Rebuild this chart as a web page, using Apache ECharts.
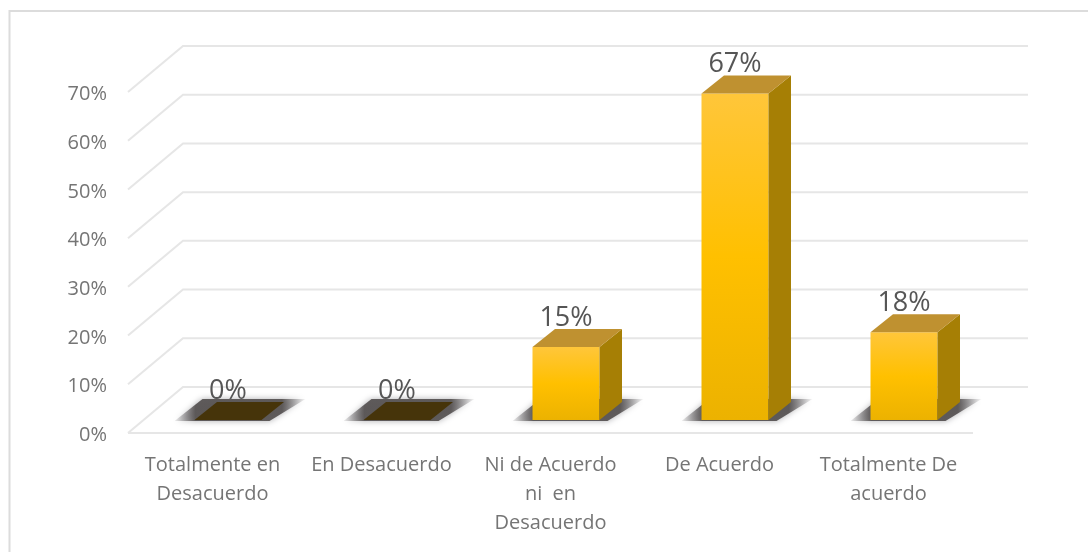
<!DOCTYPE html>
<html lang="es">
<head>
<meta charset="utf-8">
<title>Nivel de acuerdo</title>
<script src="https://cdn.jsdelivr.net/npm/echarts@6/dist/echarts.min.js"></script>
<style>
  html, body { margin: 0; padding: 0; background: #fff; }
  #chart { width: 1088px; height: 552px; }
</style>
</head>
<body>
<div id="chart"></div>
<script>
// Respuestas de la encuesta, en porcentaje
const categories = [
  'Totalmente en\nDesacuerdo',
  'En Desacuerdo',
  'Ni de Acuerdo\nni  en\nDesacuerdo',
  'De Acuerdo',
  'Totalmente De\nacuerdo'
];
const percentages = [0, 0, 15, 67, 18];
const yTicks = [0, 10, 20, 30, 40, 50, 60, 70];

// Proyección oblicua del suelo: fondo de la caja y profundidad de cada barra
const WALL_DX = 55, WALL_DY = -46;
const BAR_SHIFT_X = 15.5, BAR_SHIFT_Y = -13;
const BAR_DX = 22.5, BAR_DY = -18;
const BAR_WIDTH = 67;

const TEXT = '#757575';
const GRID = '#e6e6e6';
const FONT = '"Open Sans", Lato, sans-serif';

const chart = echarts.init(document.getElementById('chart'), null, { renderer: 'canvas' });

// Una línea por marca del eje: diagonal del lateral más tramo de la pared del fondo
function renderGridLine(params, api) {
  const tick = api.value(0);
  const start = api.coord([0, tick]);
  const end = api.coord([categories.length, tick]);
  const lineStyle = { stroke: GRID, lineWidth: 2, fill: null };
  const children = [{
    type: 'polyline',
    shape: {
      points: [
        start,
        [start[0] + WALL_DX, start[1] + WALL_DY],
        [end[0] + WALL_DX, end[1] + WALL_DY]
      ]
    },
    style: lineStyle
  }];
  if (tick === 0) {
    children.push({ type: 'line', shape: { x1: start[0], y1: start[1], x2: end[0], y2: end[1] }, style: lineStyle });
  }
  return { type: 'group', children };
}

// Barra en perspectiva: sombra difusa, frente, lateral, tapa y rótulo
function renderBar(params, api) {
  const value = api.value(1);
  const base = api.coord([api.value(0), 0]);
  const top = api.coord([api.value(0), value]);
  const cx = base[0] + BAR_SHIFT_X;
  const x0 = cx - BAR_WIDTH / 2;
  const x1 = cx + BAR_WIDTH / 2;
  const yb = base[1] + BAR_SHIFT_Y;
  const yt = top[1] + BAR_SHIFT_Y;
  const empty = value === 0;

  const shadow = {
    type: 'polygon',
    shape: {
      points: [
        [x0 - 20, yb + 1],
        [x1 + 8, yb + 1],
        [x1 + 44, yb - 21],
        [x0 + 8, yb - 21]
      ]
    },
    style: {
      fill: new echarts.graphic.LinearGradient(0, 0, 1, 0, [
        { offset: 0, color: 'rgba(110,108,112,0.1)' },
        { offset: 0.16, color: 'rgba(88,84,84,0.95)' },
        { offset: 0.82, color: 'rgba(88,84,84,0.95)' },
        { offset: 1, color: 'rgba(110,108,112,0.05)' }
      ]),
      shadowBlur: 6,
      shadowColor: 'rgba(100,100,105,0.55)'
    }
  };
  const cap = {
    type: 'polygon',
    shape: {
      points: [
        [x0, yt],
        [x1, yt],
        [x1 + BAR_DX, yt + BAR_DY],
        [x0 + BAR_DX, yt + BAR_DY]
      ]
    },
    style: { fill: empty ? '#46340a' : '#bf9130' }
  };
  const label = {
    type: 'text',
    style: {
      x: cx,
      y: yt + BAR_DY - 11,
      text: value + '%',
      fill: '#565656',
      font: '27px ' + FONT,
      align: 'center',
      verticalAlign: 'middle'
    },
    z2: 10
  };
  const children = [shadow];
  if (!empty) {
    children.push({
      type: 'rect',
      shape: { x: x0, y: yt, width: BAR_WIDTH, height: yb - yt },
      style: {
        fill: new echarts.graphic.LinearGradient(0, 0, 0, 1, [
          { offset: 0, color: '#ffc63a' },
          { offset: 0.5, color: '#ffc000' },
          { offset: 1, color: '#ecb200' }
        ])
      }
    });
    children.push({
      type: 'polygon',
      shape: {
        points: [
          [x1, yt],
          [x1 + BAR_DX, yt + BAR_DY],
          [x1 + BAR_DX, yb + BAR_DY],
          [x1, yb]
        ]
      },
      style: { fill: '#a67f05' }
    });
  }
  children.push(cap, label);
  return { type: 'group', children };
}

chart.setOption({
  animation: false,
  backgroundColor: '#ffffff',
  textStyle: { fontFamily: FONT },
  graphic: [{
    // Marco superior e izquierdo del área del gráfico
    type: 'polyline',
    silent: true,
    shape: { points: [[9.5, 552], [9.5, 11], [1088, 11]] },
    style: { stroke: '#dcdcdc', lineWidth: 2, fill: null }
  }],
  grid: { left: 128, right: 115, top: 92, bottom: 119 },
  xAxis: [
    {
      type: 'category',
      data: categories,
      axisLine: { show: false },
      axisTick: { show: false },
      splitLine: { show: false },
      axisLabel: {
        interval: 0,
        color: TEXT,
        fontSize: 20,
        fontFamily: FONT,
        lineHeight: 29,
        margin: 18
      }
    },
    { type: 'value', min: 0, max: categories.length, show: false }
  ],
  yAxis: {
    type: 'value',
    min: 0,
    max: 70,
    interval: 10,
    axisLine: { show: false },
    axisTick: { show: false },
    splitLine: { show: false },
    axisLabel: {
      margin: 21,
      formatter: '{tick|{value}%}',
      rich: {
        tick: {
          color: TEXT,
          fontSize: 20,
          fontFamily: FONT,
          padding: [5, 0, 0, 0]
        }
      }
    }
  },
  series: [
    {
      type: 'custom',
      xAxisIndex: 1,
      renderItem: renderGridLine,
      data: yTicks.map(t => [t]),
      encode: { y: 0 },
      silent: true,
      z: 1
    },
    {
      type: 'custom',
      xAxisIndex: 1,
      renderItem: renderBar,
      data: percentages.map((v, i) => [i + 0.5, v]),
      encode: { x: 0, y: 1 },
      silent: true,
      z: 2
    }
  ]
});
</script>
</body>
</html>
